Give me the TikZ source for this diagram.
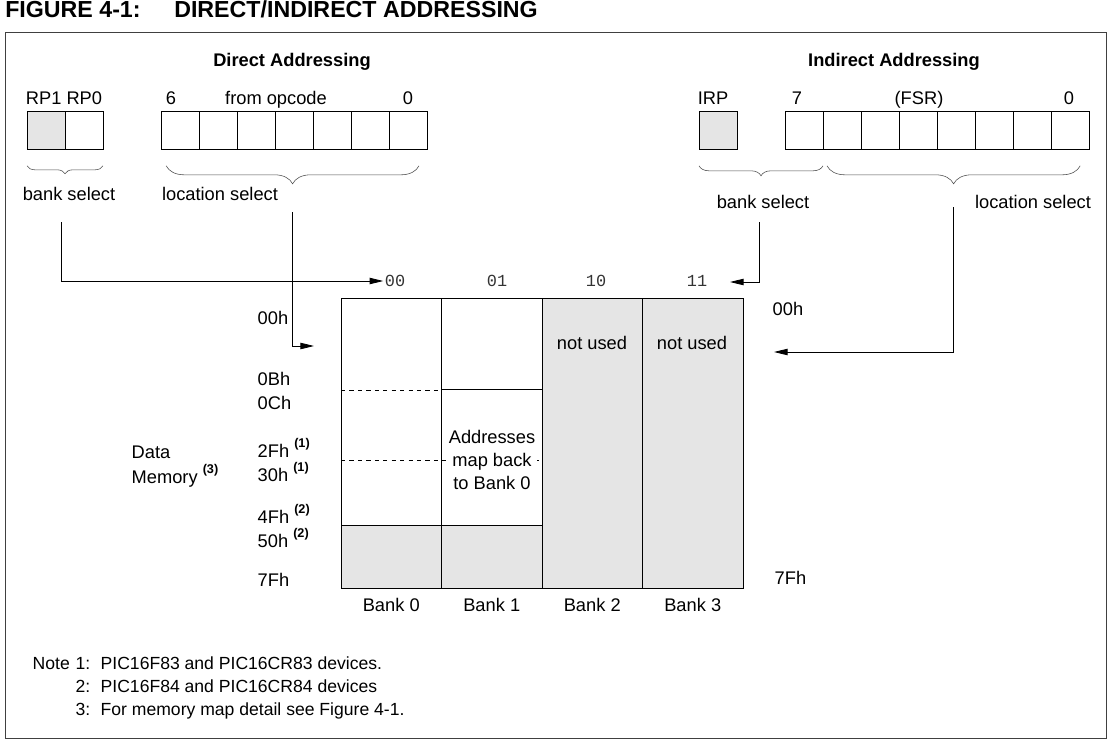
\documentclass[tikz,border=0pt]{standalone}
\usepackage{fontspec}
\setmainfont{Liberation Sans}
\setmonofont{Liberation Mono}
\usetikzlibrary{arrows.meta,positioning,decorations.pathreplacing}

\newcommand{\memref}[1]{\ \raisebox{0.5em}{\fontsize{9}{10}\selectfont\bfseries(#1)}}

\begin{document}
\begin{tikzpicture}[
  x=0.025cm, y=-0.025cm,
  txt/.style={font=\fontsize{13}{16.3}\selectfont, inner sep=1pt},
  bitlbl/.style={txt, anchor=base},
  head/.style={font=\fontsize{13}{16}\selectfont\bfseries, inner sep=1pt},
  bitbox/.style={draw, line width=0.6pt, minimum width=0.95cm, minimum height=0.95cm, inner sep=0pt, outer sep=0pt},
  setbit/.style={bitbox, fill=gray!20},
  bankcol/.style={draw, line width=0.6pt, minimum width=2.5125cm, minimum height=7.25cm, inner sep=0pt, outer sep=0pt},
  banknum/.style={font=\ttfamily\fontsize{12}{14}\selectfont, inner sep=1pt, black!80},
  addr/.style={txt, anchor=base west},
  note/.style={font=\fontsize{12.5}{15}\selectfont, inner sep=1pt, anchor=base west},
  selbrace/.style={decorate, decoration={brace, mirror, amplitude=#1}, line width=0.4pt, black!70},
  sel/.style={line width=0.6pt, -{Triangle[length=0.34cm, width=0.16cm]}},
  dots/.style={dash pattern=on 3pt off 3pt, line width=0.5pt}
]
  \useasboundingbox (0,0) rectangle (1110,742);

  % title and frame
  \node[anchor=base west, inner sep=0pt, font=\fontsize{16.5}{19}\selectfont\bfseries] (fig) at (5,18) {FIGURE 4-1:};
  \node[anchor=base west, inner sep=0pt, font=\fontsize{16.5}{19}\selectfont\bfseries] (title) at (174,18) {DIRECT/INDIRECT ADDRESSING};
  \draw[line width=0.7pt, black!75] (5,32) rectangle (1106,738);

  \node[head] (dhead) at (292,62) {Direct Addressing};
  \node[head] (ihead) at (894,62) {Indirect Addressing};

  % direct addressing register
  \node[setbit] (rp1) at (46,130) {};
  \node[bitbox, right=0pt of rp1] (rp0) {};
  \node[bitlbl] (rp) at (64,105) {RP1 RP0};
  \foreach \i in {0,...,6}
    \node[bitbox] (op\i) at (180+38*\i,130) {};
  \node[bitlbl] at (171,105) {6};
  \node[bitlbl] (opc) at (276,105) {from opcode};
  \node[bitlbl] at (408,105) {0};

  % indirect addressing register
  \node[setbit] (irp) at (718,130) {};
  \foreach \i in {0,...,7}
    \node[bitbox] (fsr\i) at (804+38*\i,130) {};
  \node[bitlbl] at (713,105) {IRP};
  \node[bitlbl] at (797,105) {7};
  \node[bitlbl] (fsr) at (919,105) {(FSR)};
  \node[bitlbl] at (1069,105) {0};

  % braces
  \draw[selbrace=0.2cm] ([yshift=-0.42cm]rp1.south west) -- ([yshift=-0.42cm]rp0.south east);
  \draw[selbrace=0.45cm] ([xshift=0.13cm,yshift=-0.42cm]op0.south west) -- ([xshift=-0.2cm,yshift=-0.42cm]op6.south east);
  \draw[selbrace=0.25cm] ([yshift=-0.42cm]irp.south west) -- ([yshift=-0.42cm]fsr0.south east);
  \draw[selbrace=0.45cm] ([xshift=0.1cm,yshift=-0.42cm]fsr1.south west) -- ([xshift=-0.22cm,yshift=-0.42cm]fsr7.south east);

  \node[txt] (dbank) at (69,194) {bank select};
  \node[txt] (dloc) at (220,194) {location select};
  \node[txt] (ibank) at (763,202) {bank select};
  \node[txt] (iloc) at (1033,202) {location select};

  % bank numbers
  \node[banknum] (b00) at (395,281) {00};
  \node[banknum] (b01) at (497,281) {01};
  \node[banknum] (b10) at (596,281) {10};
  \node[banknum] (b11) at (697,281) {11};

  % memory banks
  \fill[gray!20] (341,525) rectangle (542,588);
  \foreach \i/\f in {0/none,1/none,2/gray!20,3/gray!20}
    \node[bankcol, fill=\f] (bank\i) at (391.25+100.5*\i,443) {};
  \draw[dots] (341,390) -- (442,390);
  \draw[dots] (341,460) -- (542,460);
  \draw[line width=0.6pt] (341,525) -- (542,525);
  \draw[line width=0.6pt] (442,389) -- (542,389);
  \node[txt, fill=white, align=center] (remap) at (492,460) {Addresses\\map back\\to Bank 0};
  \node[txt] (nu2) at (592,343) {not used};
  \node[txt] (nu3) at (692,343) {not used};
  \foreach \i in {0,...,3}
    \node[txt, below=6pt of bank\i] {Bank \i};

  % address labels
  \foreach \a/\y in {00h/324, 0Bh/385, 0Ch/409, {2Fh\memref{1}}/457, {30h\memref{1}}/481,
                     {4Fh\memref{2}}/523, {50h\memref{2}}/547, 7Fh/586}
    \node[addr] at (256,\y) {\a};
  \node[addr] (data) at (130,458) {Data};
  \node[addr] (mem) at (130,483) {Memory\memref{3}};
  \node[addr] (top) at (771,315) {00h};
  \node[addr] (bot) at (773,584) {7Fh};

  % select paths
  \coordinate (dbank out) at (61,222);
  \coordinate (dloc out) at (292,212);
  \coordinate (dloc in) at (314,346);
  \coordinate (ibank out) at (759,222);
  \coordinate (ibank in) at (730,282);
  \coordinate (iloc out) at (953,207);
  \coordinate (iloc in) at (774,352);
  \draw[sel] (dbank out) |- (b00.west);
  \draw[sel] (dloc out) |- (dloc in);
  \draw[sel] (ibank out) |- (ibank in);
  \draw[sel] (iloc out) |- (iloc in);

  % notes
  \node[note] (hdr) at (31,669) {Note};
  \foreach \n/\t/\y in {1/PIC16F83 and PIC16CR83 devices./669,
                        2/PIC16F84 and PIC16CR84 devices/692,
                        3/For memory map detail see Figure 4-1./715}
  {
    \node[note] (num\n) at (74,\y) {\n:};
    \node[note] (txt\n) at (99,\y) {\t};
  }
\end{tikzpicture}
\end{document}
